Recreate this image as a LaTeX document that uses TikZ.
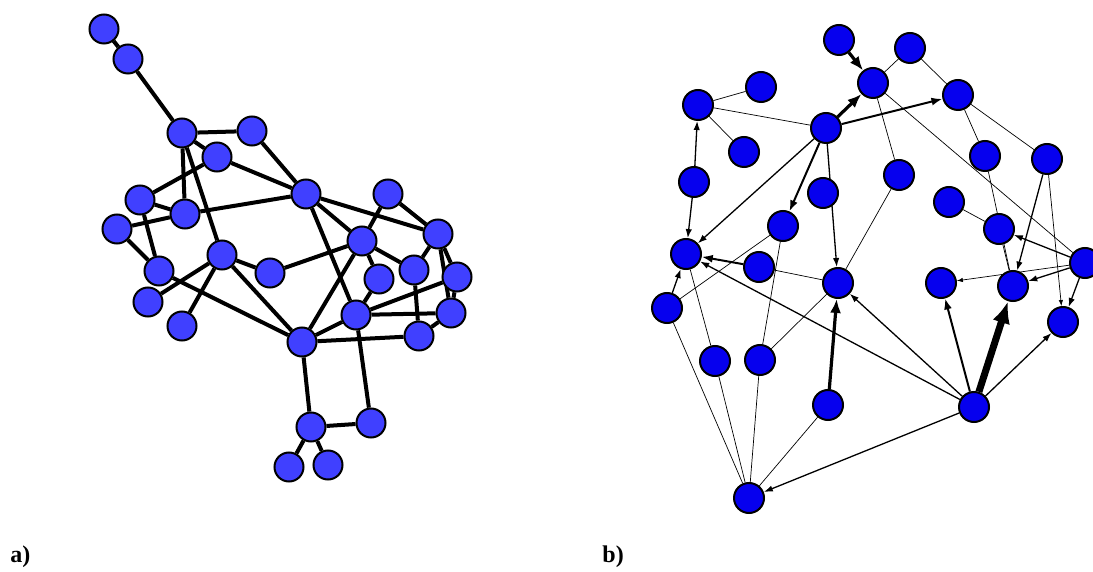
\documentclass[tikz,border=0pt]{standalone}
\usepackage{fontspec}
\setmainfont{Liberation Serif}
\usetikzlibrary{arrows.meta}
\pgfdeclarelayer{edges}
\pgfsetlayers{edges,main}
\definecolor{nodea}{RGB}{64,64,255}
\definecolor{nodeb}{RGB}{6,0,238}
\begin{document}
\begin{tikzpicture}[x=0.5pt,y=-0.5pt,
	va/.style={circle,draw,line width=1pt,fill=nodea,minimum size=14.5pt,inner sep=0pt},
	vb/.style={circle,draw,line width=1pt,fill=nodeb,minimum size=15pt,inner sep=0pt},
	ea/.style={line width=2pt},
	eb/.style={line width=0.35pt},
	thinarr/.style={line width=0.35pt,-{Latex[length=3pt,width=2.2pt]}},
	medarr/.style={line width=0.65pt,-{Latex[length=4.5pt,width=3.2pt]}},
	thkarr/.style={line width=1pt,-{Latex[length=5.5pt,width=4pt]}},
	heavyarr/.style={line width=1.6pt,-{Latex[length=7pt,width=5.5pt]}},
	hugearr/.style={line width=3.5pt,-{Latex[length=11pt,width=9pt]}},
	lab/.style={font=\bfseries\fontsize{12}{14}\selectfont,inner sep=0pt,anchor=base west}]
	\useasboundingbox (0,0) rectangle (1093,572);

	\node[va] (a1) at (104,29) {};
	\node[va] (a2) at (128,59) {};
	\node[va] (a3) at (182,133) {};
	\node[va] (a4) at (252,131) {};
	\node[va] (a5) at (217,157) {};
	\node[va] (a6) at (140,200) {};
	\node[va] (a7) at (185,214) {};
	\node[va] (a8) at (117,229) {};
	\node[va] (a9) at (306,194) {};
	\node[va] (a10) at (222,255) {};
	\node[va] (a11) at (270,273) {};
	\node[va] (a12) at (159,271) {};
	\node[va] (a13) at (148,302) {};
	\node[va] (a14) at (182,326) {};
	\node[va] (a15) at (302,342) {};
	\node[va] (a16) at (388,194) {};
	\node[va] (a17) at (362,241) {};
	\node[va] (a18) at (438,234) {};
	\node[va] (a19) at (379,279) {};
	\node[va] (a20) at (414,270) {};
	\node[va] (a21) at (457,277) {};
	\node[va] (a22) at (356,315) {};
	\node[va] (a23) at (451,313) {};
	\node[va] (a24) at (419,336) {};
	\node[va] (a25) at (311,427) {};
	\node[va] (a26) at (371,423) {};
	\node[va] (a27) at (289,467) {};
	\node[va] (a28) at (328,465) {};

	\begin{pgfonlayer}{edges}
		\draw[ea] (a1) -- (a2);
		\draw[ea] (a2) -- (a3);
		\draw[ea] (a3) -- (a4);
		\draw[ea] (a3) -- (a5);
		\draw[ea] (a3) -- (a7);
		\draw[ea] (a3) -- (a10);
		\draw[ea] (a4) -- (a9);
		\draw[ea] (a5) -- (a9);
		\draw[ea] (a5) -- (a6);
		\draw[ea] (a6) -- (a7);
		\draw[ea] (a6) -- (a12);
		\draw[ea] (a7) -- (a9);
		\draw[ea] (a8) -- (a7);
		\draw[ea] (a8) -- (a12);
		\draw[ea] (a10) -- (a13);
		\draw[ea] (a10) -- (a14);
		\draw[ea] (a10) -- (a11);
		\draw[ea] (a10) -- (a15);
		\draw[ea] (a12) -- (a15);
		\draw[ea] (a11) -- (a17);
		\draw[ea] (a9) -- (a17);
		\draw[ea] (a9) -- (a18);
		\draw[ea] (a9) -- (a22);
		\draw[ea] (a15) -- (a17);
		\draw[ea] (a15) -- (a22);
		\draw[ea] (a15) -- (a24);
		\draw[ea] (a15) -- (a25);
		\draw[ea] (a22) -- (a26);
		\draw[ea] (a25) -- (a26);
		\draw[ea] (a25) -- (a27);
		\draw[ea] (a25) -- (a28);
		\draw[ea] (a16) -- (a17);
		\draw[ea] (a16) -- (a18);
		\draw[ea] (a17) -- (a19);
		\draw[ea] (a17) -- (a20);
		\draw[ea] (a19) -- (a22);
		\draw[ea] (a18) -- (a20);
		\draw[ea] (a18) -- (a21);
		\draw[ea] (a18) -- (a23);
		\draw[ea] (a21) -- (a23);
		\draw[ea] (a22) -- (a21);
		\draw[ea] (a22) -- (a23);
		\draw[ea] (a20) -- (a24);
		\draw[ea] (a24) -- (a23);
	\end{pgfonlayer}

	\node[vb] (b1) at (839,40) {};
	\node[vb] (b2) at (910,48) {};
	\node[vb] (b3) at (873,83) {};
	\node[vb] (b4) at (761,87) {};
	\node[vb] (b5) at (698,105) {};
	\node[vb] (b6) at (958,95) {};
	\node[vb] (b7) at (826,128) {};
	\node[vb] (b8) at (744,152) {};
	\node[vb] (b9) at (985,156) {};
	\node[vb] (b10) at (1047,159) {};
	\node[vb] (b11) at (694,182) {};
	\node[vb] (b12) at (823,193) {};
	\node[vb] (b13) at (899,175) {};
	\node[vb] (b14) at (949,202) {};
	\node[vb] (b15) at (783,226) {};
	\node[vb] (b16) at (999,229) {};
	\node[vb] (b17) at (686,254) {};
	\node[vb] (b18) at (759,267) {};
	\node[vb] (b19) at (838,283) {};
	\node[vb] (b20) at (1085,263) {};
	\node[vb] (b21) at (941,283) {};
	\node[vb] (b22) at (1013,286) {};
	\node[vb] (b23) at (667,308) {};
	\node[vb] (b24) at (1063,322) {};
	\node[vb] (b25) at (715,361) {};
	\node[vb] (b26) at (760,360) {};
	\node[vb] (b27) at (828,405) {};
	\node[vb] (b28) at (974,407) {};
	\node[vb] (b29) at (749,498) {};

	\begin{pgfonlayer}{edges}
		\draw[eb] (b5) -- (b4);
		\draw[eb] (b5) -- (b7);
		\draw[eb] (b5) -- (b8);
		\draw[eb] (b3) -- (b2);
		\draw[eb] (b3) -- (b13);
		\draw[eb] (b3) -- (b20);
		\draw[eb] (b2) -- (b6);
		\draw[eb] (b6) -- (b9);
		\draw[eb] (b6) -- (b10);
		\draw[eb] (b9) -- (b22);
		\draw[eb] (b14) -- (b16);
		\draw[eb] (b16) -- (b22);
		\draw[eb] (b13) -- (b19);
		\draw[eb] (b23) -- (b15);
		\draw[eb] (b23) -- (b29);
		\draw[eb] (b17) -- (b25);
		\draw[eb] (b25) -- (b29);
		\draw[eb] (b26) -- (b29);
		\draw[eb] (b26) -- (b15);
		\draw[eb] (b26) -- (b19);
		\draw[eb] (b27) -- (b29);
		\draw[eb] (b18) -- (b19);
		\draw[thinarr] (b10) -- (b24);
		\draw[thinarr] (b20) -- (b21);
		\draw[medarr] (b11) -- (b5);
		\draw[medarr] (b11) -- (b17);
		\draw[medarr] (b7) -- (b17);
		\draw[medarr] (b7) -- (b19);
		\draw[medarr] (b20) -- (b16);
		\draw[medarr] (b10) -- (b22);
		\draw[medarr] (b20) -- (b22);
		\draw[medarr] (b20) -- (b24);
		\draw[medarr] (b28) -- (b24);
		\draw[medarr] (b28) -- (b19);
		\draw[medarr] (b28) -- (b17);
		\draw[medarr] (b28) -- (b29);
		\draw[medarr] (b23) -- (b17);
		\draw[thkarr] (b7) -- (b15);
		\draw[thkarr] (b18) -- (b17);
		\draw[thkarr] (b7) -- (b6);
		\draw[thkarr] (b28) -- (b21);
		\draw[heavyarr] (b1) -- (b3);
		\draw[heavyarr] (b7) -- (b3);
		\draw[heavyarr] (b27) -- (b19);
		\draw[hugearr] (b28) -- (b22);
	\end{pgfonlayer}

	\node[lab] (la) at (10,562) {a)};
	\node[lab] (lb) at (602,562) {b)};
\end{tikzpicture}
\end{document}
